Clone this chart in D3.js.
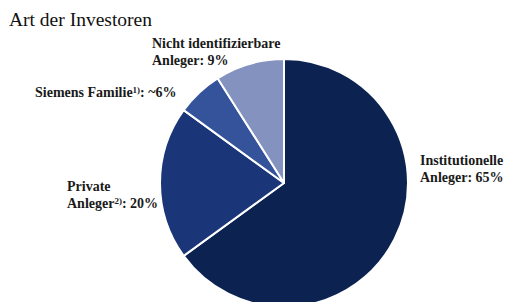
<!DOCTYPE html>
<html><head><meta charset="utf-8">
<script src="https://cdn.jsdelivr.net/npm/d3@7"></script>
<style>
html,body{margin:0;padding:0;background:#fff;}
svg{display:block;}
</style></head><body>
<svg id="c" width="513" height="302"></svg>
<script>
const categories = ["Institutionelle Anleger", "Private Anleger", "Siemens Familie", "Nicht identifizierbare Anleger"];
const values = [65, 20, 6, 9];
const colors = ["#0c2352", "#1a3578", "#34539a", "#8492c0"];
const title = "Art der Investoren";

const svg = d3.select("#c");
const cx = 284, cy = 183, r = 124;

svg.append("text").attr("x", 9).attr("y", 26)
  .style("font-family", "'Liberation Serif', serif")
  .attr("font-size", 19.5).attr("fill", "#111").text(title);

const pie = d3.pie().sort(null).value(d => d)(values);
const arc = d3.arc().innerRadius(0).outerRadius(r);
const g = svg.append("g").attr("transform", `translate(${cx},${cy})`);
g.selectAll("path").data(pie).join("path")
  .attr("d", arc)
  .attr("fill", (d, i) => colors[i])
  .attr("stroke", "#fff").attr("stroke-width", 2).attr("stroke-linejoin", "round");

const lab = [
  {x: 420, y: 165, lines: [["Institutionelle"], ["Anleger: " + values[0] + "%"]]},
  {x: 67, y: 191, lines: [["Private"], ["Anleger", "2)", ": " + values[1] + "%"]]},
  {x: 35, y: 97, lines: [["Siemens Familie", "1)", ": ~" + values[2] + "%"]]},
  {x: 152, y: 48, lines: [["Nicht identifizierbare"], ["Anleger: " + values[3] + "%"]]}
];
lab.forEach(L => {
  const t = svg.append("text").attr("x", L.x).attr("y", L.y)
    .style("font-family", "'Liberation Serif', serif")
    .attr("font-size", 14).attr("font-weight", "bold").attr("fill", "#1a1a1a");
  L.lines.forEach((parts, li) => {
    parts.forEach((p, pi) => {
      const ts = t.append("tspan").text(p);
      if (pi === 0) ts.attr("x", L.x).attr("y", L.y + li * 16.5);
      if (pi === 1) ts.attr("font-size", 9).attr("dy", -4);
      if (pi === 2) ts.attr("dy", 4);
    });
  });
});
</script></body></html>
